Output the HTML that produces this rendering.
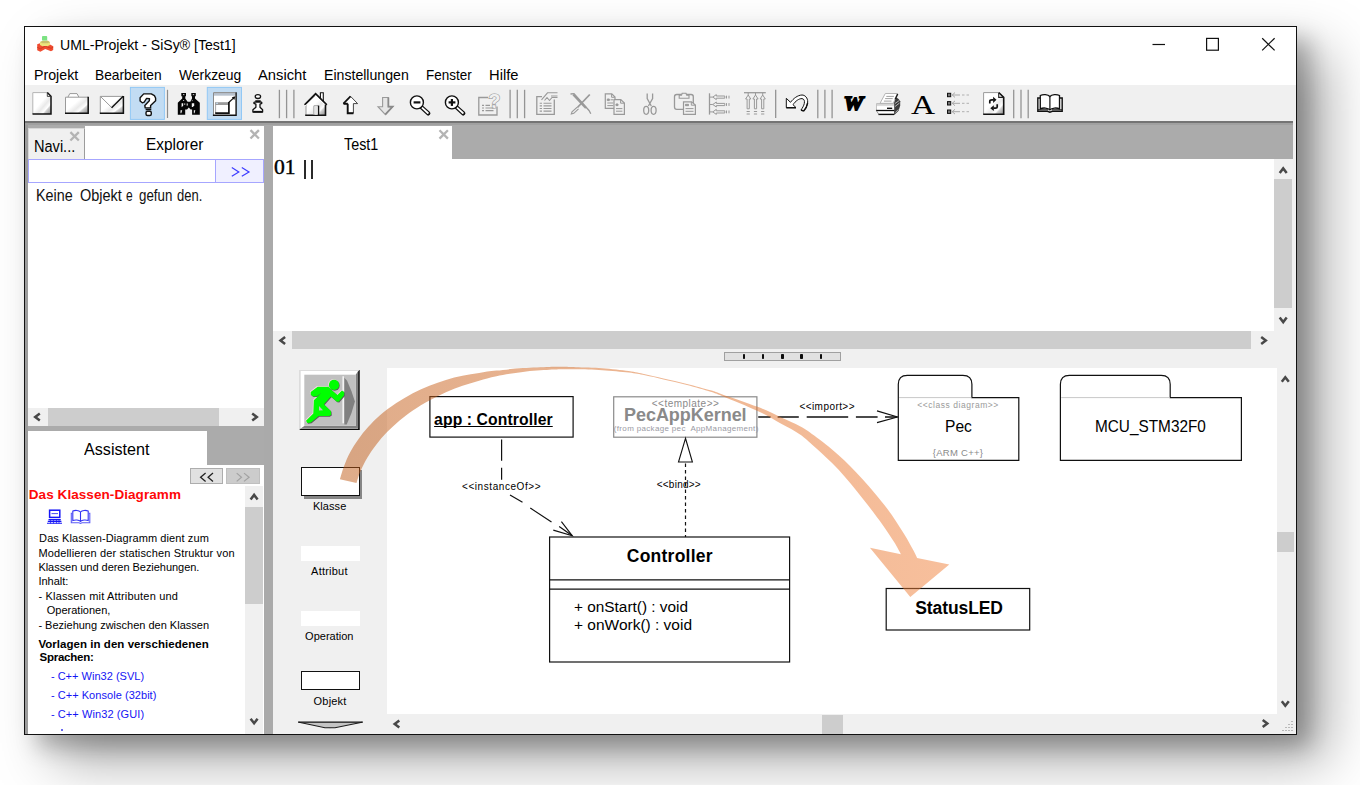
<!DOCTYPE html>
<html><head><meta charset="utf-8"><title>UML-Projekt - SiSy [Test1]</title>
<style>
html,body{margin:0;padding:0;width:1360px;height:785px;overflow:hidden;background:#fff;}
body{position:relative;font-family:"Liberation Sans",sans-serif;color:#000;}
.b{position:absolute;box-sizing:border-box;}
.t{position:absolute;white-space:pre;display:block;}
svg{position:absolute;overflow:visible;}
</style></head><body>
<div class="b" style="left:24px;top:26px;width:1273px;height:709px;background:#fff;border:1px solid #111;box-shadow:13.3px 11.5px 21px 0 rgba(0,0,0,.25), 29px 25.600px 52px 0 rgba(0,0,0,.34);"></div>
<span class="t" style="left:60.40px;top:36.95px;font-size:15.3px;line-height:15.3px;transform:scaleX(0.9210);transform-origin:0 0;">UML-Projekt - SiSy® [Test1]</span>
<svg style="left:1140px;top:30px" width="150" height="30" viewBox="1140 30 150 30"><g stroke="#111" stroke-width="1.2" fill="none"><path d="M1152.5 44.5H1165"/><rect x="1206.6" y="38.4" width="11.8" height="11.8"/><path d="M1262.2 38.2L1274.6 50.4M1274.6 38.2L1262.2 50.4"/></g></svg>
<span class="t" style="left:33.90px;top:67.94px;font-size:14.6px;line-height:14.6px;transform:scaleX(0.9727);transform-origin:0 0;">Projekt</span>
<span class="t" style="left:95.10px;top:67.94px;font-size:14.6px;line-height:14.6px;transform:scaleX(0.9431);transform-origin:0 0;">Bearbeiten</span>
<span class="t" style="left:179.30px;top:67.94px;font-size:14.6px;line-height:14.6px;transform:scaleX(0.9517);transform-origin:0 0;">Werkzeug</span>
<span class="t" style="left:258.20px;top:67.94px;font-size:14.6px;line-height:14.6px;transform:scaleX(1.0109);transform-origin:0 0;">Ansicht</span>
<span class="t" style="left:323.70px;top:67.94px;font-size:14.6px;line-height:14.6px;transform:scaleX(0.9673);transform-origin:0 0;">Einstellungen</span>
<span class="t" style="left:425.60px;top:67.94px;font-size:14.6px;line-height:14.6px;transform:scaleX(0.9233);transform-origin:0 0;">Fenster</span>
<span class="t" style="left:488.80px;top:67.94px;font-size:14.6px;line-height:14.6px;transform:scaleX(1.0100);transform-origin:0 0;">Hilfe</span>
<div class="b" style="left:25px;top:85px;width:1271px;height:36px;background:#f0f0f0;"></div>
<div class="b" style="left:25px;top:121px;width:1271px;height:613px;background:#f0f0f0;"></div>
<div class="b" style="left:25px;top:121px;width:1268.2px;height:38px;background:#ababab;"></div>
<div class="b" style="left:25px;top:121.4px;width:1268.2px;height:2.2px;background:#747474;"></div>
<div class="b" style="left:25px;top:123.4px;width:1268.2px;height:2px;background:#a0a0a0;"></div>
<div class="b" style="left:25px;top:125px;width:3.3px;height:609px;background:#9c9c9c;"></div>
<div class="b" style="left:264.2px;top:125px;width:9px;height:609px;background:#aaaaaa;"></div>
<div class="b" style="left:28.3px;top:127.7px;width:56.5px;height:32.3px;background:#f0f0f0;border-right:1.7px solid #9c9c9c;border-top:1px solid #d8d8d8;border-left:1px solid #d8d8d8;"></div>
<div class="b" style="left:84.8px;top:125.8px;width:179.2px;height:34.2px;background:#fff;"></div>
<span class="t" style="left:34.30px;top:138.20px;font-size:16.3px;line-height:16.3px;transform:scaleX(0.8941);transform-origin:0 0;">Navi...</span>
<span class="t" style="left:145.90px;top:135.99px;font-size:16.2px;line-height:16.2px;transform:scaleX(0.9515);transform-origin:0 0;">Explorer</span>
<div class="b" style="left:28.3px;top:159.3px;width:236.2px;height:23.9px;background:#fff;border:1.400px solid #a6a6ff;"></div>
<div class="b" style="left:215.4px;top:159.3px;width:49.1px;height:23.9px;background:#f0f0ff;border:1.400px solid #a6a6ff;border-left-width:1.700px;"></div>
<svg style="left:228px;top:164px" width="26" height="16" viewBox="228 164 26 16"><path d="M231.800 167.500L238.800 171.900 231.800 176.300M241.800 167.500L249 171.900 241.800 176.300" fill="none" stroke="#3c3cff" stroke-width="1.200"/></svg>
<div class="b" style="left:28px;top:183px;width:236px;height:225px;background:#fff;"></div>
<span class="t" style="left:35.50px;top:186.90px;font-size:16.3px;line-height:16.3px;color:#111;transform:scaleX(0.8803);transform-origin:0 0;">Keine</span>
<span class="t" style="left:79.90px;top:186.90px;font-size:16.3px;line-height:16.3px;color:#111;transform:scaleX(0.8894);transform-origin:0 0;">Objekt</span>
<span class="t" style="left:126.20px;top:186.90px;font-size:16.3px;line-height:16.3px;color:#111;transform:scaleX(0.7391);transform-origin:0 0;">e</span>
<span class="t" style="left:139.10px;top:186.90px;font-size:16.3px;line-height:16.3px;color:#111;transform:scaleX(0.8188);transform-origin:0 0;">gefun</span>
<span class="t" style="left:176.90px;top:186.90px;font-size:16.3px;line-height:16.3px;color:#111;transform:scaleX(0.7975);transform-origin:0 0;">den.</span>
<div class="b" style="left:28px;top:408px;width:236px;height:17.5px;background:#f0f0f0;"></div>
<div class="b" style="left:48px;top:408px;width:170.5px;height:17.5px;background:#cdcdcd;"></div>
<div class="b" style="left:28px;top:425.5px;width:236px;height:39.5px;background:#ababab;"></div>
<div class="b" style="left:28px;top:430.7px;width:179px;height:34.3px;background:#fff;"></div>
<span class="t" style="left:83.90px;top:441.10px;font-size:16.3px;line-height:16.3px;transform:scaleX(0.9904);transform-origin:0 0;">Assistent</span>
<div class="b" style="left:28px;top:465px;width:236px;height:269px;background:#fff;"></div>
<div class="b" style="left:189.9px;top:468px;width:33.6px;height:15.7px;background:#e1e1e1;border:1px solid #adadad;"></div>
<div class="b" style="left:225.8px;top:468px;width:34px;height:15.7px;background:#cccccc;border:1px solid #bfbfbf;"></div>
<svg style="left:196px;top:470px" width="60" height="14" viewBox="196 470 60 14"><path d="M205.600 473.100L200.600 477.200 205.600 481.400M213 473.100L208.100 477.200 213 481.400" fill="none" stroke="#222" stroke-width="1.300"/><path d="M236.700 473.100L241.500 477.200 236.700 481.400M244 473.100L249.100 477.200 244 481.400" fill="none" stroke="#a2a2a2" stroke-width="1.200"/></svg>
<span class="t" style="left:28.80px;top:488.27px;font-size:13.5px;line-height:13.5px;letter-spacing:0.068px;font-weight:bold;color:#ff0808;">Das Klassen-Diagramm</span>
<div class="b" style="left:245.1px;top:486.4px;width:17.8px;height:247.6px;background:#f0f0f0;"></div>
<div class="b" style="left:245.1px;top:506.8px;width:17.8px;height:97.6px;background:#cdcdcd;"></div>
<span class="t" style="left:39.10px;top:533.09px;font-size:11px;line-height:11px;letter-spacing:0.097px;">Das Klassen-Diagramm dient zum</span>
<span class="t" style="left:38.40px;top:547.69px;font-size:11px;line-height:11px;letter-spacing:0.143px;">Modellieren der statischen Struktur von</span>
<span class="t" style="left:38.40px;top:562.19px;font-size:11px;line-height:11px;letter-spacing:-0.037px;">Klassen und deren Beziehungen.</span>
<span class="t" style="left:38.40px;top:576.19px;font-size:11px;line-height:11px;">Inhalt:</span>
<span class="t" style="left:38.40px;top:590.89px;font-size:11px;line-height:11px;letter-spacing:0.185px;">- Klassen mit Attributen und</span>
<span class="t" style="left:46.80px;top:605.39px;font-size:11px;line-height:11px;">Operationen,</span>
<span class="t" style="left:38.40px;top:619.59px;font-size:11px;line-height:11px;">- Beziehung zwischen den Klassen</span>
<span class="t" style="left:38.40px;top:638.57px;font-size:11.5px;line-height:11.5px;letter-spacing:0.041px;font-weight:bold;">Vorlagen in den verschiedenen</span>
<span class="t" style="left:39.50px;top:652.47px;font-size:11.5px;line-height:11.5px;letter-spacing:-0.242px;font-weight:bold;">Sprachen:</span>
<span class="t" style="left:50.90px;top:671.19px;font-size:11px;line-height:11px;letter-spacing:0.017px;color:#1414f4;">- C++ Win32 (SVL)</span>
<span class="t" style="left:50.90px;top:689.79px;font-size:11px;line-height:11px;letter-spacing:0.047px;color:#1414f4;">- C++ Konsole (32bit)</span>
<span class="t" style="left:50.90px;top:709.29px;font-size:11px;line-height:11px;letter-spacing:0.095px;color:#1414f4;">- C++ Win32 (GUI)</span>
<div class="b" style="left:60.6px;top:729px;width:2px;height:2.2px;background:#6a6af0;"></div>
<div class="b" style="left:273.2px;top:125.8px;width:178.8px;height:33.7px;background:#fff;"></div>
<span class="t" style="left:343.80px;top:135.72px;font-size:16.4px;line-height:16.4px;transform:scaleX(0.8750);transform-origin:0 0;">Test1</span>
<div class="b" style="left:273.2px;top:159px;width:1001.1px;height:172.2px;background:#fff;"></div>
<span class="t" style="left:273.90px;top:157.23px;font-size:20.5px;line-height:20.5px;font-family:'Liberation Serif', serif;transform:scaleX(1.0537);transform-origin:0 0;-webkit-text-stroke:0.4px #000;">01</span>
<div class="b" style="left:304.4px;top:159.5px;width:1.3px;height:19px;background:#2a2a2a;"></div>
<div class="b" style="left:311.4px;top:159.5px;width:1.3px;height:19px;background:#2a2a2a;"></div>
<div class="b" style="left:1274.5px;top:159px;width:19px;height:172.5px;background:#f0f0f0;"></div>
<div class="b" style="left:1274.3px;top:178.7px;width:17.6px;height:129px;background:#cdcdcd;"></div>
<div class="b" style="left:273.2px;top:331.2px;width:1020.3px;height:17.8px;background:#f0f0f0;"></div>
<div class="b" style="left:292px;top:331.3px;width:958.7px;height:17.4px;background:#cdcdcd;"></div>
<div class="b" style="left:723.9px;top:352px;width:117.3px;height:8.7px;background:#e1e1e1;border:1px solid #a0a0a0;"></div>
<div class="b" style="left:742.6999999999999px;top:353.9px;width:2.4px;height:5.1px;background:#0c0c0c;border-radius:0.8px;"></div>
<div class="b" style="left:762.0px;top:353.9px;width:2.4px;height:5.1px;background:#0c0c0c;border-radius:0.8px;"></div>
<div class="b" style="left:781.3px;top:353.9px;width:2.4px;height:5.1px;background:#0c0c0c;border-radius:0.8px;"></div>
<div class="b" style="left:800.4px;top:353.9px;width:2.4px;height:5.1px;background:#0c0c0c;border-radius:0.8px;"></div>
<div class="b" style="left:819.6999999999999px;top:353.9px;width:2.4px;height:5.1px;background:#0c0c0c;border-radius:0.8px;"></div>
<div class="b" style="left:387px;top:368.4px;width:889.5px;height:345.8px;background:#fff;"></div>
<div class="b" style="left:1276.5px;top:368.5px;width:17.5px;height:346.5px;background:#f0f0f0;"></div>
<div class="b" style="left:1276.5px;top:531.8px;width:17px;height:20.1px;background:#cdcdcd;"></div>
<div class="b" style="left:387px;top:715px;width:889.5px;height:18.5px;background:#f0f0f0;"></div>
<div class="b" style="left:822px;top:715px;width:21px;height:18.5px;background:#cdcdcd;"></div>
<svg style="left:25px;top:85px" width="1271" height="36" viewBox="25 85 1271 36"><defs><linearGradient id="gsh" x1="0" y1="0" x2="1" y2="1"><stop offset="0.45" stop-color="#fff"/><stop offset="0.62" stop-color="#e9e9e9"/><stop offset="0.75" stop-color="#fff"/><stop offset="0.8" stop-color="#d0d0d0"/><stop offset="1" stop-color="#8a8a8a"/></linearGradient></defs><rect x="130.4" y="87.4" width="34" height="32" fill="#c2dcf3" stroke="#92c8f5" stroke-width="1"/><rect x="207.3" y="87.4" width="34.2" height="32" fill="#c2dcf3" stroke="#92c8f5" stroke-width="1"/><path d="M167.5 89.8V118" stroke="#8c8c8c" stroke-width="1.2"/><path d="M775.7 89.8V118" stroke="#8c8c8c" stroke-width="1.2"/><path d="M279.4 89.8V118.2" stroke="#949494" stroke-width="1.3"/><path d="M286.6 89.8V118.2" stroke="#949494" stroke-width="1.3"/><path d="M293.9 89.8V118.2" stroke="#949494" stroke-width="1.3"/><path d="M510.1 89.8V118.2" stroke="#949494" stroke-width="1.3"/><path d="M517.3 89.8V118.2" stroke="#949494" stroke-width="1.3"/><path d="M524.6 89.8V118.2" stroke="#949494" stroke-width="1.3"/><path d="M817.8 89.8V118.2" stroke="#949494" stroke-width="1.3"/><path d="M824.9 89.8V118.2" stroke="#949494" stroke-width="1.3"/><path d="M832.1 89.8V118.2" stroke="#949494" stroke-width="1.3"/><path d="M1013.7 89.8V118.2" stroke="#949494" stroke-width="1.3"/><path d="M1021 89.8V118.2" stroke="#949494" stroke-width="1.3"/><path d="M1028.2 89.8V118.2" stroke="#949494" stroke-width="1.3"/><path d="M32.8 92.6H47.5L51 96.2V114H32.8Z" fill="url(#gsh)"/><path d="M32.8 114V92.6H47.5" fill="none" stroke="#b4b4b4" stroke-width="1"/><path d="M47.3 92.5L51 96.3V114H32.5" fill="none" stroke="#111" stroke-width="1.5"/><path d="M47.3 92.8V96.4H50.8" fill="none" stroke="#333" stroke-width="0.9"/><path d="M65.5 97H68.2L69.8 93.6H77L78.8 97H88.2V113H65.5Z" fill="url(#gsh)"/><path d="M65.5 113V97.2H88M68 97L69.8 93.6H77L78.8 97" fill="none" stroke="#9a9a9a" stroke-width="1"/><path d="M88.2 96.8V113.2H65" fill="none" stroke="#111" stroke-width="1.5"/><rect x="100.3" y="96.2" width="23" height="17" fill="url(#gsh)"/><path d="M100.3 113V96.4H123M100.5 96.5L111.8 107.7" fill="none" stroke="#9a9a9a" stroke-width="1"/><path d="M111.6 107.7L123.2 96.3" fill="none" stroke="#111" stroke-width="1.5"/><path d="M123.4 96V113.2H99.8" fill="none" stroke="#111" stroke-width="1.5"/><path d="M140.100 97.800L143.700 93.900H151.300L154.400 95.600L155.600 98V100.800L150.600 105.500V107.900H145.200L144.800 105.400L149.300 100.700L149.500 98.700L146.600 98.400L144.200 102.100L142.300 102.800L140.100 101V97.800Z" fill="#fff" stroke="#111" stroke-width="1.400" stroke-linejoin="round"/><rect x="146" y="111.200" width="5.300" height="4.300" rx="1.500" fill="#fff" stroke="#111" stroke-width="1.400"/><path d="M145.600 109.500H151.300" stroke="#111" stroke-width="1.600"/><path d="M181.300 93H186V96.200H185.300V98.600L187.600 101.800H190.300L192 98.600V96.200H191.300V93H195.800V96.200H195V98.600L199.800 102.800V114.700H192.100V109.400H190.600L188.800 107.400L187 109.400H185.200V114.700H177.800V102.800L182.200 98.600V96.200H181.300Z" fill="#050505"/><g fill="#f4f4f4"><path d="M181.600 103.200h1.600v2.600l-1.600 1.400z"/><rect x="184.300" y="103.400" width="0.900" height="1.400"/><rect x="186.700" y="103.400" width="1" height="2.200"/><path d="M191.800 103.200h2.400v2.400l-1.300 1.300h-1.100z"/><path d="M180.500 110.200h1.700l-0.900 3h-0.800z"/><path d="M193.800 110.200h1.500l-0.800 3h-0.700z"/><rect x="183" y="94.300" width="1.400" height="0.800"/><rect x="192.800" y="94.300" width="1.400" height="0.800"/><rect x="183.300" y="100" width="0.800" height="1"/><rect x="191.800" y="100.300" width="0.800" height="0.800"/></g><rect x="213.200" y="92.400" width="23" height="22.800" fill="#fff"/><rect x="213.600" y="93" width="22" height="2.700" fill="#b9c3cf"/><path d="M213.500 115V92.600H235.500" fill="none" stroke="#8a8a8a" stroke-width="1"/><path d="M236.100 92.200V115.200H212.900" fill="none" stroke="#111" stroke-width="1.400"/><rect x="215.400" y="102.200" width="13.600" height="11" fill="#fff"/><rect x="215.400" y="102.200" width="13.600" height="2.800" fill="#9a9a9a"/><rect x="216" y="102.700" width="2" height="1.200" fill="#c6dcf0"/><path d="M215.600 113V102.300" stroke="#9a9a9a" stroke-width="0.900"/><path d="M228.900 102V113.200H215.200" fill="none" stroke="#111" stroke-width="1.700"/><path d="M229 102.200L234.300 97.400" stroke="#111" stroke-width="1.200"/><path d="M235.400 96.300l-3.600 .9 2.500 2.700z" fill="#111"/><ellipse cx="257.900" cy="96.600" rx="2.700" ry="1.900" fill="#fff" stroke="#111" stroke-width="1.300"/><path d="M255.300 100.800H260.700M253.900 102.700L254.300 102.200H261.600L261.800 102.700V103.300L260 104.200V107.300L262.600 109.800V112.100H252.900V109.800L255.900 107.300V104.200L253.900 103.300Z" fill="#fff" stroke="#111" stroke-width="1.300" stroke-linejoin="round"/><path d="M253.200 111.700H262.400" stroke="#111" stroke-width="1.700"/><path d="M306 104.800V115h19.400V104.800L315.600 94.800Z" fill="url(#gsh)"/><path d="M306 115V104.500" stroke="#999" stroke-width="1"/><path d="M320.400 98.800V92.700h2.900V101.500" fill="#fff" stroke="#111" stroke-width="1.1"/><path d="M304.600 104.800L315.600 93.600L326.800 104.800" fill="none" stroke="#111" stroke-width="1.7"/><path d="M304.900 106L315.600 95.800 326.300 106" fill="none" stroke="#fff" stroke-width="1"/><path d="M306 104.300L315.600 95" fill="none" stroke="#111" stroke-width="0.7"/><path d="M325.500 104.500V115.200H305.200" fill="none" stroke="#111" stroke-width="1.6"/><path d="M313.900 115V105.800H318.400" fill="none" stroke="#999" stroke-width="1"/><path d="M318.500 105.600V115" stroke="#111" stroke-width="1.500"/><rect x="314.500" y="106.300" width="3.200" height="8.500" fill="#e4e4e4"/><path d="M350.500 96.300L357.600 103.600H353.400V113.200H347.500V103.600H343.400Z" fill="#fff" stroke="#333" stroke-width="0.9" stroke-linejoin="miter"/><path d="M347.700 103.800V113.300H353.400M343.600 103.700H347.700" fill="none" stroke="#111" stroke-width="1.900"/><path d="M350.500 96.300L343.400 103.600" stroke="#111" stroke-width="1.700"/><path d="M382.600 97.500H388.300V106.700H392.700L385.400 114.600L378 106.700H382.600Z" fill="#e6e6e6" stroke="#9a9a9a" stroke-width="1.1"/><path d="M388.400 97.500V106.700H392.600L385.400 114.400" fill="none" stroke="#8a8a8a" stroke-width="1.700"/><path d="M421.5 107.2L428.29999999999995 113.4" stroke="#111" stroke-width="4.2" stroke-linecap="round"/><path d="M422.29999999999995 107.9L427.9 113" stroke="#fff" stroke-width="1.800" stroke-linecap="round"/><circle cx="416.9" cy="102.400" r="6.500" fill="#fff" stroke="#111" stroke-width="1.400"/><path d="M413.59999999999997 102.400H420.4" stroke="#111" stroke-width="2.200"/><path d="M456.5 107.2L463.29999999999995 113.4" stroke="#111" stroke-width="4.2" stroke-linecap="round"/><path d="M457.29999999999995 107.9L462.9 113" stroke="#fff" stroke-width="1.800" stroke-linecap="round"/><circle cx="451.9" cy="102.400" r="6.500" fill="#fff" stroke="#111" stroke-width="1.400"/><path d="M448.59999999999997 102.400H455.4" stroke="#111" stroke-width="2.200"/><path d="M451.900 99V105.900" stroke="#111" stroke-width="2.200"/><path d="M488 97.500H478.800V115H497V106.500" fill="none" stroke="#999999" stroke-width="1.300"/><text x="494.300" y="107.800" font-family="Liberation Sans" font-weight="bold" font-size="20" text-anchor="middle" fill="#f0f0f0" stroke="#999999" stroke-width="1.200" paint-order="stroke">?</text><path d="M482 105.300h2M485.500 105.300h4.500M482 108h2M485.500 108h8M482 110.700h2M485.500 110.700h8" stroke="#999999" stroke-width="1.200"/><path d="M542 96.700H536.800V114.300H554.300V99.500" fill="none" stroke="#999999" stroke-width="1.300"/><path d="M541.500 99.800L547.500 92.800H557.500M544.500 100.500L547 97.500 549.500 100.500 552 97.500 557.500 97.500M551 96l6.500 0" fill="none" stroke="#999999" stroke-width="1.100"/><path d="M539.700 103.300h2.300M543.500 103.300h8M539.700 105.900h2.300M543.500 105.900h8M539.700 108.500h2.300M543.500 108.500h8M539.700 111.100h2.300M543.500 111.100h8" stroke="#999999" stroke-width="1.100"/><path d="M570.500 94L574 93.600 589 110.500 590.800 113.800" fill="none" stroke="#999999" stroke-width="1.300"/><path d="M573.300 94.500L586 108" stroke="#999999" stroke-width="2.400"/><path d="M589.800 94.500L575.500 109.500" stroke="#999999" stroke-width="1.800"/><path d="M577 107.300L572 111.800 571.300 114 573.800 113.300 578.500 108.800" fill="#f0f0f0" stroke="#999999" stroke-width="1.100"/><path d="M605.300 93.800H611.800L615 97V108.400H605.300Z" fill="#f0f0f0" stroke="#999999" stroke-width="1.200"/><path d="M611.600 94V97.300H614.800" fill="none" stroke="#999999" stroke-width="1"/><path d="M607.300 99h2v1.600h-2zM610.500 99.800h2.500M607.300 103h6M607.300 105.600h6" stroke="#999999" stroke-width="1" fill="#999999"/><path d="M614 99.600H620.800L624.400 103V114.300H614Z" fill="#f0f0f0" stroke="#999999" stroke-width="1.200"/><path d="M620.600 99.800V103.200H624.200" fill="none" stroke="#999999" stroke-width="1"/><path d="M616 104h2v1.600h-2zM616 108.600h6.400M616 111.200h6.400" stroke="#999999" stroke-width="1" fill="#999999"/><path d="M647.200 93.400V98.500L651.300 106M652.600 93.400V98.500L648.400 106" fill="none" stroke="#999999" stroke-width="1.300"/><ellipse cx="646.200" cy="110.300" rx="2.500" ry="4" fill="none" stroke="#999999" stroke-width="1.300"/><ellipse cx="653.600" cy="110.300" rx="2.500" ry="4" fill="none" stroke="#999999" stroke-width="1.300"/><rect x="674.500" y="94.500" width="18.800" height="14.800" rx="2.200" fill="none" stroke="#999999" stroke-width="1.300"/><path d="M679.200 98.200V95.200H681.500L682.200 93.200H686L686.700 95.200H689V98.200Z" fill="#f0f0f0" stroke="#999999" stroke-width="1.100"/><path d="M683.500 101.800H691.500L695.400 105V114.300H683.500Z" fill="#f0f0f0" stroke="#999999" stroke-width="1.200"/><path d="M691.300 102V105.200H695.200" fill="none" stroke="#999999" stroke-width="1"/><path d="M685.500 104.300h3v1.400h-3zM685.500 108.600h8M685.500 111.300h8" stroke="#999999" stroke-width="1" fill="#999999"/><path d="M709.500 93.300V114.600" stroke="#999999" stroke-width="1.300"/><path d="M709.500 97.1H712.800L716.300 94.6V96.0H724.800V98.19999999999999H716.300V99.6L712.800 97.1" fill="#f0f0f0" stroke="#999999" stroke-width="1"/><path d="M726.500 95.69999999999999v2.800M729 95.69999999999999v2.800" stroke="#999999" stroke-width="1"/><path d="M709.500 104.5H712.800L716.300 102.0V103.4H724.800V105.6H716.300V107.0L712.800 104.5" fill="#f0f0f0" stroke="#999999" stroke-width="1"/><path d="M726.500 103.1v2.800M729 103.1v2.800" stroke="#999999" stroke-width="1"/><path d="M709.500 111.9H712.800L716.300 109.4V110.80000000000001H724.800V113.0H716.300V114.4L712.800 111.9" fill="#f0f0f0" stroke="#999999" stroke-width="1"/><path d="M726.500 110.5v2.800M729 110.5v2.800" stroke="#999999" stroke-width="1"/><path d="M744 92.700H765.800" stroke="#999999" stroke-width="1.300"/><path d="M748.2 92.700V95L745.6 99H747.1V108.800H749.3000000000001V99H750.8000000000001L748.2 95" fill="#f0f0f0" stroke="#999999" stroke-width="1"/><path d="M746.6 111.500h3.200M746.6 114h3.200" stroke="#999999" stroke-width="1"/><path d="M755.5 92.700V95L752.9 99H754.4V108.800H756.6V99H758.1L755.5 95" fill="#f0f0f0" stroke="#999999" stroke-width="1"/><path d="M753.9 111.500h3.200M753.9 114h3.200" stroke="#999999" stroke-width="1"/><path d="M762.7 92.700V95L760.1 99H761.6V108.800H763.8000000000001V99H765.3000000000001L762.7 95" fill="#f0f0f0" stroke="#999999" stroke-width="1"/><path d="M761.1 111.500h3.200M761.1 114h3.200" stroke="#999999" stroke-width="1"/><path d="M786.300 98.300V107.600H796L793 104.700C795.500 101 799 98.500 802 98.600C804.200 98.900 804.800 101 804.300 103.400C803.800 105.800 802.500 108 801 109.800L803.600 110.900C805.600 108.800 807.500 105.500 807.700 102C807.800 97.800 805 95 802 95C797.500 95.200 793.500 98.500 790.500 102.300Z" fill="#fff" stroke="#111" stroke-width="1" stroke-linejoin="round"/><path d="M786.300 107.700H796M801 110L803.700 111.100M807.600 103C807.100 106 805.600 109 803.700 111.100" fill="none" stroke="#111" stroke-width="1.500"/><text x="853.500" y="110.300" font-family="Liberation Serif" font-weight="bold" font-style="italic" font-size="19.500" text-anchor="middle" fill="#000" stroke="#000" stroke-width="1.800" stroke-linejoin="miter" transform="translate(853.5 0) scale(1.120 1) translate(-853.5 0)">W</text><path d="M894.100 99.500L896.500 97.600 898.600 99 900.200 101.200V105.500L898.600 110.800 894.800 114.600H894.100Z" fill="#3c3c3c"/><path d="M895 103.500L899.300 100.500M895 106.500L899.500 103M895.300 112.600L898.300 109.500" stroke="#b4b4b4" stroke-width="1"/><path d="M885.300 93.500H897.500L893.300 103.300H880Z" fill="#fff" stroke="#b4b4b4" stroke-width="1"/><path d="M897.700 94L895.200 99.300" stroke="#1a1a1a" stroke-width="1.400"/><path d="M886.300 96.400h7.600M885.100 98.600h7.600M883.900 101.100h7.600" stroke="#a2a2a2" stroke-width="1"/><rect x="876.300" y="103.600" width="17.800" height="2.600" fill="#dcdcdc"/><path d="M876.300 103.700H894" stroke="#aaa" stroke-width="0.800"/><rect x="876.300" y="106.200" width="17.800" height="4" fill="#fff"/><path d="M876.500 104V110.500" stroke="#bdbdbd" stroke-width="0.900"/><path d="M887 108.300H892.200" stroke="#111" stroke-width="1.400"/><path d="M876.400 110.600L878.900 114.400H893.900V110.600Z" fill="#fff"/><path d="M876 110.500H894.300" stroke="#0c0c0c" stroke-width="1.300"/><path d="M878.400 114.400H894.300" stroke="#0c0c0c" stroke-width="1.400"/><path d="M876.400 110.600L878.900 114.400" stroke="#888" stroke-width="0.900"/><text x="923" y="114.500" font-family="Liberation Serif" font-size="27.800" text-anchor="middle" fill="#000" transform="translate(923 0) scale(1.200 1) translate(-923 0)">A</text><rect x="947.500" y="93.3" width="3.200" height="3.400" fill="#777" stroke="#111" stroke-width="1"/><path d="M952.200 95L955 92.6M952.200 95L955 97.4M952.200 95H960" stroke="#a8a8a8" stroke-width="1"/><path d="M962 95h2.500M966.500 95h2.500" stroke="#b0b0b0" stroke-width="1"/><rect x="947.500" y="101.6" width="3.200" height="3.400" fill="#777" stroke="#111" stroke-width="1"/><path d="M952.200 103.3L955 100.89999999999999M952.200 103.3L955 105.7M952.200 103.3H960" stroke="#a8a8a8" stroke-width="1"/><path d="M962 103.3h2.500M966.500 103.3h2.500" stroke="#b0b0b0" stroke-width="1"/><rect x="947.500" y="110.0" width="3.200" height="3.400" fill="#777" stroke="#111" stroke-width="1"/><path d="M952.200 111.7L955 109.3M952.200 111.7L955 114.10000000000001M952.200 111.7H960" stroke="#a8a8a8" stroke-width="1"/><path d="M962 111.7h2.500M966.500 111.7h2.500" stroke="#b0b0b0" stroke-width="1"/><path d="M983.600 92.600H998.800L1003.600 97.200V114.300H983.600Z" fill="url(#gsh)"/><path d="M983.600 114.300V92.600H998.800" fill="none" stroke="#9a9a9a" stroke-width="1"/><path d="M998.700 92.500L1003.700 97.300V114.300H983.200" fill="none" stroke="#111" stroke-width="1.600"/><path d="M998.700 93V97.400H1003.400" fill="none" stroke="#222" stroke-width="1.100"/><path d="M989.800 103.600V101.300C989.800 100 990.800 99.800 992 99.800H993.400" fill="none" stroke="#111" stroke-width="1.700"/><path d="M993.100 96.800L996.500 99.800 993.100 102.900Z" fill="#111"/><path d="M997.200 104.300V107C997.200 108 996.600 108.200 995.500 108.200H993.600" fill="none" stroke="#111" stroke-width="1.700"/><path d="M993.800 105.300L990.300 108.200 993.800 111.100Z" fill="#111"/><path d="M1049.900 96.500C1048 94.200 1043 94 1040.300 95.500V108.800C1043 107.500 1048 107.800 1049.900 109.800C1051.800 107.800 1056.800 107.500 1059.500 108.800V95.500C1056.800 94 1051.800 94.200 1049.900 96.500Z" fill="#fff" stroke="#111" stroke-width="1.300"/><path d="M1049.900 96.500V109.800" stroke="#111" stroke-width="1.200"/><path d="M1040 98H1037.800V111.300H1047.500L1049.900 112.200 1052.300 111.300H1062.200V98H1059.800" fill="none" stroke="#111" stroke-width="1.400"/><path d="M1038 109.800H1048M1052 109.800H1062" stroke="#111" stroke-width="1"/></svg>
<svg style="left:36px;top:35px" width="19" height="18" viewBox="36 35 19 18"><path d="M37.200 44.200L40 43.300 45 46 50 44.400 53.200 46.300V50L51 51.200 47.200 49.700 45.300 48.900 40.300 51.800 37.200 50.300Z" fill="#f04c30"/><path d="M37.200 47.300L40.300 48.800 45.300 46.200 51 48.300 53.200 47.200" fill="none" stroke="#d03a22" stroke-width="0.900"/><path d="M40 42L43 40.700H48L50 42.200V45L47.500 46.300 45 45.800 42.500 46.300 40 45Z" fill="#ece47c"/><path d="M40 42L43 40.700H48L50 42.200 47.500 43.200H42.500Z" fill="#c9c06c"/><rect x="42" y="36.100" width="5.200" height="4.500" rx="0.900" fill="#7ce283"/></svg>
<svg style="left:66px;top:128px" width="18" height="18" viewBox="66 128 18 18"><path d="M70.39999999999999 132.10000000000002L78.8 140.5M78.8 132.10000000000002L70.39999999999999 140.5" stroke="#b4b4b4" stroke-width="2.3"/></svg>
<svg style="left:246px;top:126px" width="18" height="18" viewBox="246 126 18 18"><path d="M250.5 130.10000000000002L258.9 138.5M258.9 130.10000000000002L250.5 138.5" stroke="#b4b4b4" stroke-width="2.3"/></svg>
<svg style="left:435px;top:126px" width="18" height="18" viewBox="435 126 18 18"><path d="M439.5 130.20000000000002L447.9 138.6M447.9 130.20000000000002L439.5 138.6" stroke="#b4b4b4" stroke-width="2.3"/></svg>
<svg style="left:29px;top:409px" width="18" height="18" viewBox="29 409 18 18"><path d="M39.8 413.5L35.2 417L39.8 420.5" fill="none" stroke="#484848" stroke-width="2.5"/></svg>
<svg style="left:246px;top:409px" width="18" height="18" viewBox="246 409 18 18"><path d="M252.2 413.5L256.8 417L252.2 420.5" fill="none" stroke="#484848" stroke-width="2.5"/></svg>
<svg style="left:246px;top:489px" width="18" height="18" viewBox="246 489 18 18"><path d="M250.6 499.5L254.1 494.9L257.6 499.5" fill="none" stroke="#484848" stroke-width="2.5"/></svg>
<svg style="left:246px;top:713px" width="18" height="18" viewBox="246 713 18 18"><path d="M250.6 718.7L254.1 723.3L257.6 718.7" fill="none" stroke="#484848" stroke-width="2.5"/></svg>
<svg style="left:1275px;top:162px" width="18" height="18" viewBox="1275 162 18 18"><path d="M1279.7 173.0L1283.2 168.39999999999998L1286.7 173.0" fill="none" stroke="#484848" stroke-width="2.5"/></svg>
<svg style="left:1275px;top:311px" width="18" height="18" viewBox="1275 311 18 18"><path d="M1279.7 317.5L1283.2 322.1L1286.7 317.5" fill="none" stroke="#484848" stroke-width="2.5"/></svg>
<svg style="left:274px;top:332px" width="18" height="18" viewBox="274 332 18 18"><path d="M285.1 336.9L280.5 340.4L285.1 343.9" fill="none" stroke="#484848" stroke-width="2.5"/></svg>
<svg style="left:1255px;top:332px" width="18" height="18" viewBox="1255 332 18 18"><path d="M1261.2 336.9L1265.8 340.4L1261.2 343.9" fill="none" stroke="#484848" stroke-width="2.5"/></svg>
<svg style="left:1277px;top:371px" width="18" height="18" viewBox="1277 371 18 18"><path d="M1281.8 381.8L1285.3 377.2L1288.8 381.8" fill="none" stroke="#484848" stroke-width="2.5"/></svg>
<svg style="left:1277px;top:695px" width="18" height="18" viewBox="1277 695 18 18"><path d="M1281.8 701.2L1285.3 705.8L1288.8 701.2" fill="none" stroke="#484848" stroke-width="2.5"/></svg>
<svg style="left:389px;top:716px" width="18" height="18" viewBox="389 716 18 18"><path d="M399.3 720.5L394.7 724L399.3 727.5" fill="none" stroke="#484848" stroke-width="2.5"/></svg>
<svg style="left:1257px;top:715px" width="18" height="18" viewBox="1257 715 18 18"><path d="M1262.7 720.0L1267.3 723.5L1262.7 727.0" fill="none" stroke="#484848" stroke-width="2.5"/></svg>
<div class="b" style="left:1291.2px;top:729.6px;width:1.7px;height:1.7px;background:#b9b9b9;"></div>
<div class="b" style="left:1288.2px;top:729.6px;width:1.7px;height:1.7px;background:#b9b9b9;"></div>
<div class="b" style="left:1285.2px;top:729.6px;width:1.7px;height:1.7px;background:#b9b9b9;"></div>
<div class="b" style="left:1282.2px;top:729.6px;width:1.7px;height:1.7px;background:#b9b9b9;"></div>
<div class="b" style="left:1291.2px;top:726.6px;width:1.7px;height:1.7px;background:#b9b9b9;"></div>
<div class="b" style="left:1288.2px;top:726.6px;width:1.7px;height:1.7px;background:#b9b9b9;"></div>
<div class="b" style="left:1285.2px;top:726.6px;width:1.7px;height:1.7px;background:#b9b9b9;"></div>
<div class="b" style="left:1291.2px;top:723.6px;width:1.7px;height:1.7px;background:#b9b9b9;"></div>
<div class="b" style="left:1288.2px;top:723.6px;width:1.7px;height:1.7px;background:#b9b9b9;"></div>
<div class="b" style="left:1291.2px;top:720.6px;width:1.7px;height:1.7px;background:#b9b9b9;"></div>
<svg style="left:45px;top:508px" width="48" height="18" viewBox="45 508 48 18"><rect x="49.600" y="510.200" width="10.200" height="7.200" fill="#fff" stroke="#1616f6" stroke-width="1.500"/><path d="M51.500 513.600H58" stroke="#4a4af8" stroke-width="1"/><path d="M48.500 519.600H60.800M47.800 521.400H61.400M47 523.200H62" stroke="#1616f6" stroke-width="1.150"/><path d="M50.500 519v4.500M53.500 519v4.500M56.500 519v4.500M59 519v4.500" stroke="#1616f6" stroke-width="0.700"/><g fill="none" stroke="#3434f4" stroke-width="1.100"><path d="M80.500 512C79 510.200 75 510 72.800 511.100V520.600C75 519.600 79 519.800 80.500 521.400C82 519.800 86 519.600 88.200 520.600V511.100C86 510 82 510.200 80.500 512Z" fill="#fff"/><path d="M80.500 512V521.400"/><path d="M72.600 513.300H71.300V522.800H79L80.500 523.500 82 522.800H89.800V513.300H88.400" stroke="#5c5cf6"/></g></svg>
<div class="b" style="left:299.3px;top:369.7px;width:60.4px;height:60.3px;background:#dcdcdc;"></div>
<svg style="left:299px;top:369px" width="62" height="62" viewBox="-0.300 -0.700 62 62"><path d="M0 60.300L60.400 60.300V0L58.700 1.700V58.700H1.700Z" fill="#0a0a0a"/><path d="M1.400 1.400H58.800V58.800H1.400Z" fill="#fff"/><path d="M1.400 58.800L58.800 58.800V1.400L56.400 5V56.200H5Z" fill="#808080"/><rect x="5" y="5" width="51.500" height="51.200" fill="#c0c0c0"/><path d="M43.900 6.500V53.600" stroke="#f6f6f6" stroke-width="1.500"/><path d="M45.100 8.100L47.800 11.100 52.200 21.500 55.600 31.900 52.200 43.200 47.400 54.900H45.100Z" fill="#808080"/><g transform="translate(-0.700 -0.600)" fill="#f9d8e6"><circle cx="34.700" cy="15.250" r="5"/><path d="M11.4 22.4 L18.4 17.0 L28.9 17.0 L31.4 19.6 L38.0 25.4 L42.6 20.9 L44.9 22.4 L44.9 25.6 L39.3 32.1 L37.3 31.9 L31.5 26.9 L24.6 34.5 L31.5 41.4 L31.8 45.1 L29.8 46.4 L19.4 46.4 L11.6 52.9 L8.1 53.3 L6.7 51.0 L14.0 43.8 L14.5 30.6 L22.0 23.4 L17.5 26.5 L13.6 26.7 L11.3 24.8Z"/></g><g transform="translate(0.700 0.700)" fill="#5a5a5a"><circle cx="34.700" cy="15.250" r="5"/><path d="M11.4 22.4 L18.4 17.0 L28.9 17.0 L31.4 19.6 L38.0 25.4 L42.6 20.9 L44.9 22.4 L44.9 25.6 L39.3 32.1 L37.3 31.9 L31.5 26.9 L24.6 34.5 L31.5 41.4 L31.8 45.1 L29.8 46.4 L19.4 46.4 L11.6 52.9 L8.1 53.3 L6.7 51.0 L14.0 43.8 L14.5 30.6 L22.0 23.4 L17.5 26.5 L13.6 26.7 L11.3 24.8Z"/></g><g fill="#00ff00"><circle cx="34.700" cy="15.250" r="5.100"/><path d="M11.4 22.4 L18.4 17.0 L28.9 17.0 L31.4 19.6 L38.0 25.4 L42.6 20.9 L44.9 22.4 L44.9 25.6 L39.3 32.1 L37.3 31.9 L31.5 26.9 L24.6 34.5 L31.5 41.4 L31.8 45.1 L29.8 46.4 L19.4 46.4 L11.6 52.9 L8.1 53.3 L6.7 51.0 L14.0 43.8 L14.5 30.6 L22.0 23.4 L17.5 26.5 L13.6 26.7 L11.3 24.8Z"/></g><path d="M19.7 36.4 L23.7 40.6 L19.7 40.7Z" fill="#c0c0c0"/></svg>
<div class="b" style="left:303.6px;top:470.2px;width:58.8px;height:29px;background:#868686;"></div>
<div class="b" style="left:301px;top:467.3px;width:58.6px;height:28.8px;background:#fff;border:1.400px solid #111;"></div>
<span class="t" style="left:312.90px;top:500.89px;font-size:11px;line-height:11px;letter-spacing:0.077px;">Klasse</span>
<div class="b" style="left:300.8px;top:546.1px;width:58.8px;height:14.7px;background:#fff;"></div>
<span class="t" style="left:311.10px;top:565.89px;font-size:11px;line-height:11px;letter-spacing:0.222px;">Attribut</span>
<div class="b" style="left:300.8px;top:611.1px;width:58.8px;height:14.7px;background:#fff;"></div>
<span class="t" style="left:305.10px;top:631.19px;font-size:11px;line-height:11px;letter-spacing:0.011px;">Operation</span>
<div class="b" style="left:301px;top:671px;width:58.6px;height:19.4px;background:#fff;border:1.300px solid #111;"></div>
<span class="t" style="left:313.60px;top:696.09px;font-size:11px;line-height:11px;letter-spacing:0.182px;">Objekt</span>
<svg style="left:296px;top:718px" width="70" height="14" viewBox="296 718 70 14"><path d="M298 722.100H362.900L330 728.300Z" fill="#c4c4c4"/><path d="M298 722.100H362.900" stroke="#111" stroke-width="1.400"/><path d="M299 722.300L325 727.800H335L362 722.300" fill="none" stroke="#1a1a1a" stroke-width="1.100"/></svg>
<svg style="left:387px;top:368px" width="890" height="347" viewBox="387 368 890 347"><rect x="429.900" y="396.600" width="143.200" height="40.500" fill="#fff" stroke="#111" stroke-width="1.200"/><rect x="613.700" y="396.800" width="143.200" height="40.400" fill="#fff" stroke="#8a8a8a" stroke-width="1.200"/><path d="M501.600 439.500V460.800M501.600 467.800V479.800M510 494.900L522.500 502.200M530.300 508.100L551.500 522M559.200 526.400L572.300 535.800" stroke="#111" stroke-width="1.200"/><path d="M553.300 530.100L572.300 535.800 561.400 521.600" fill="none" stroke="#111" stroke-width="1.100"/><path d="M685.500 438.300L678.500 462H692.400Z" fill="#fff" stroke="#111" stroke-width="1.100"/><path d="M685.500 463.600V537" stroke="#111" stroke-width="1.200" stroke-dasharray="3.500 3"/><path d="M758.200 417H770.600M777.600 417H798.800M806.700 417H848.200M855.900 417H877.600M885 417H897.500" stroke="#111" stroke-width="1.300"/><path d="M877 410.900L897.500 417 877 422.600" fill="none" stroke="#111" stroke-width="1.100"/><rect x="549.600" y="537" width="240" height="125" fill="#fff" stroke="#111" stroke-width="1.200"/><path d="M549.600 579.800H789.600M549.600 589.200H789.600" stroke="#111" stroke-width="1.200"/><rect x="886.200" y="588.500" width="143.500" height="41.500" fill="#fff" stroke="#111" stroke-width="1.200"/><path d="M898.3 460.300V384.300Q898.3 375.300 907.3 375.300H962.9Q971.9 375.300 971.9 384.300V397.600H1018.8V460.300Z" fill="#fff" stroke="#111" stroke-width="1.200"/><path d="M899.0999999999999 397.600H971.3" stroke="#c8c8c8" stroke-width="1"/><path d="M1060.4 460.300V384.300Q1060.4 375.300 1069.4 375.300H1161.2Q1170.2 375.300 1170.2 384.300V397.600H1241.4V460.300Z" fill="#fff" stroke="#111" stroke-width="1.200"/><path d="M1061.2 397.600H1169.6000000000001" stroke="#c8c8c8" stroke-width="1"/></svg>
<span class="t" style="left:434.10px;top:411.61px;font-size:15.7px;line-height:15.7px;letter-spacing:0.115px;font-weight:bold;text-decoration:underline;text-decoration-thickness:1.300px;text-underline-offset:1px;text-decoration-skip-ink:none;">app : Controller</span>
<span class="t" style="left:651.80px;top:399.04px;font-size:10px;line-height:10px;letter-spacing:0.480px;color:#8a8a8a;">&lt;&lt;template&gt;&gt;</span>
<span class="t" style="left:624.00px;top:405.96px;font-size:18px;line-height:18px;letter-spacing:-0.040px;font-weight:bold;color:#8a8a8a;">PecAppKernel</span>
<span class="t" style="left:613.80px;top:424.63px;font-size:8px;line-height:8px;letter-spacing:0.333px;color:#9a9aa4;">(from package pec  AppManagement)</span>
<span class="t" style="left:462.00px;top:482.44px;font-size:10px;line-height:10px;letter-spacing:0.564px;">&lt;&lt;instanceOf&gt;&gt;</span>
<span class="t" style="left:656.70px;top:479.84px;font-size:10px;line-height:10px;letter-spacing:0.248px;">&lt;&lt;bind&gt;&gt;</span>
<span class="t" style="left:799.40px;top:401.94px;font-size:10px;line-height:10px;letter-spacing:0.440px;">&lt;&lt;import&gt;&gt;</span>
<span class="t" style="left:626.80px;top:547.79px;font-size:17.5px;line-height:17.5px;letter-spacing:0.243px;font-weight:bold;">Controller</span>
<span class="t" style="left:574.00px;top:599.95px;font-size:14px;line-height:14px;transform:scaleX(1.0974);transform-origin:0 0;">+ onStart() : void</span>
<span class="t" style="left:574.00px;top:618.35px;font-size:14px;line-height:14px;transform:scaleX(1.1056);transform-origin:0 0;">+ onWork() : void</span>
<span class="t" style="left:915.20px;top:599.79px;font-size:17.5px;line-height:17.5px;letter-spacing:-0.086px;font-weight:bold;">StatusLED</span>
<span class="t" style="left:917.30px;top:401.20px;font-size:8.5px;line-height:8.5px;letter-spacing:0.544px;color:#9a9a9a;">&lt;&lt;class diagram&gt;&gt;</span>
<span class="t" style="left:945.00px;top:419.15px;font-size:16.6px;line-height:16.6px;transform:scaleX(0.9404);transform-origin:0 0;">Pec</span>
<span class="t" style="left:932.70px;top:448.46px;font-size:9.5px;line-height:9.5px;letter-spacing:0.281px;color:#8a8a8a;">{ARM C++}</span>
<span class="t" style="left:1094.70px;top:419.15px;font-size:16.6px;line-height:16.6px;transform:scaleX(0.9248);transform-origin:0 0;">MCU_STM32F0</span>
<svg style="left:330px;top:360px" width="630" height="245" viewBox="330 360 630 245"><defs><linearGradient id="og" gradientUnits="userSpaceOnUse" x1="340" y1="0" x2="950" y2="0"><stop offset="0" stop-color="#bf5a16"/><stop offset="0.450" stop-color="#d96a22"/><stop offset="1" stop-color="#f0803a"/></linearGradient></defs><path d="M339.9 479.3C340.6 477.1 342.4 470.4 344.1 466.0C345.8 461.6 347.5 457.2 349.9 452.8C352.2 448.4 355.2 443.8 358.2 439.5C361.2 435.2 364.5 431.1 368.1 427.1C371.7 423.1 375.0 419.5 379.7 415.5C384.4 411.5 390.8 406.8 396.3 403.1C401.8 399.4 407.3 396.1 412.8 393.2C418.3 390.3 423.9 387.9 429.4 385.7C434.9 383.5 440.4 381.5 445.9 379.9C451.4 378.2 457.0 377.0 462.5 375.8C468.0 374.6 473.4 373.8 479.1 372.9C484.8 372.0 489.2 371.4 496.5 370.6C503.8 369.8 514.1 368.6 522.9 368.0C531.7 367.4 542.8 367.1 549.4 366.9C556.0 366.7 558.2 366.8 562.6 366.8C567.0 366.9 569.3 367.0 575.9 367.2C582.5 367.4 593.5 367.5 602.3 368.2C611.1 368.9 621.7 370.1 628.8 371.1C635.9 372.1 639.2 373.1 645.0 374.3C650.8 375.5 656.5 376.8 663.5 378.4C670.5 380.0 679.1 381.9 687.0 383.9C694.9 385.9 704.7 388.6 710.6 390.3C716.5 392.1 714.6 391.6 722.4 394.4C730.2 397.1 747.8 403.0 757.6 406.8C767.4 410.6 774.1 414.2 781.2 417.4C788.3 420.6 794.5 423.2 800.0 426.2C805.5 429.2 807.8 430.8 814.2 435.6C820.6 440.4 830.3 447.7 838.4 455.0C846.5 462.3 854.5 470.3 862.6 479.2C870.7 488.1 880.0 499.1 886.9 508.2C893.8 517.3 899.4 526.5 903.8 533.6C908.2 540.7 911.3 546.6 913.5 550.6C915.7 554.6 916.5 556.7 917.1 557.9L949.3 564.4L910.3 597.1L869.9 547.7L900.9 554.2C899.8 552.2 897.2 547.1 894.1 542.1C891.0 537.1 887.2 531.3 882.0 524.0C876.8 516.7 869.9 507.6 862.6 498.5C855.3 489.4 846.5 478.2 838.4 469.5C830.3 460.8 820.6 452.4 814.2 446.5C807.8 440.6 805.5 438.2 800.0 434.4C794.5 430.6 788.3 427.7 781.2 423.8C774.1 419.9 767.4 415.5 757.6 410.9C747.8 406.3 730.2 399.4 722.4 396.2C714.6 393.0 716.5 393.7 710.6 391.8C704.7 389.9 694.9 387.1 687.0 385.0C679.1 382.9 670.5 381.0 663.5 379.4C656.5 377.8 650.8 376.4 645.0 375.3C639.2 374.2 635.9 373.5 628.8 372.6C621.7 371.8 611.1 370.8 602.3 370.2C593.5 369.6 582.5 369.4 575.9 369.3C569.3 369.2 567.0 369.2 562.6 369.3C558.2 369.4 556.0 369.4 549.4 369.8C542.8 370.2 531.7 370.8 522.9 371.9C514.1 373.0 503.8 374.7 496.5 376.2C489.2 377.7 484.8 379.1 479.1 380.7C473.4 382.3 468.0 383.8 462.5 385.7C457.0 387.6 451.4 389.8 445.9 392.3C440.4 394.8 434.9 397.6 429.4 400.6C423.9 403.6 417.8 407.2 412.8 410.5C407.8 413.8 403.9 416.9 399.6 420.5C395.3 424.1 391.0 428.1 387.1 432.1C383.2 436.1 379.7 440.2 376.4 444.5C373.1 448.8 369.9 453.4 367.3 457.8C364.7 462.2 362.4 466.8 360.6 471.0C358.8 475.2 357.2 480.9 356.5 482.9Z" fill="url(#og)" fill-opacity="0.5"/></svg>
</body></html>
